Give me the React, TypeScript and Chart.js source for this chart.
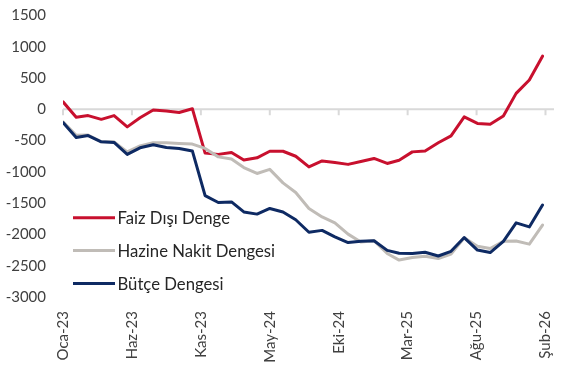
import React, { useEffect, useRef } from "react";
import { Chart, registerables } from "chart.js";

Chart.register(...registerables);

// Monthly observations (first day of each month)
const MONTHS: string[] = [
  "2023-01", "2023-02", "2023-03", "2023-04", "2023-05", "2023-06",
  "2023-07", "2023-08", "2023-09", "2023-10", "2023-11", "2023-12",
  "2024-01", "2024-02", "2024-03", "2024-04", "2024-05", "2024-06",
  "2024-07", "2024-08", "2024-09", "2024-10", "2024-11", "2024-12",
  "2025-01", "2025-02", "2025-03", "2025-04", "2025-05", "2025-06",
  "2025-07", "2025-08", "2025-09", "2025-10", "2025-11", "2025-12",
  "2026-01", "2026-02",
];

const FAIZ_DISI_DENGE: number[] = [
  120, -125, -100, -160, -100, -280, -135, -10, -25, -50, 10,
  -700, -720, -690, -810, -775, -670, -670, -750, -920, -825,
  -850, -880, -835, -785, -865, -815, -680, -665, -535, -425,
  -120, -225, -240, -105, 255, 470, 850,
];

const HAZINE_NAKIT_DENGESI: number[] = [
  -200, -415, -410, -520, -520, -680, -585, -535, -535, -545, -555,
  -625, -760, -795, -930, -1025, -960, -1175, -1330, -1585, -1720,
  -1815, -1995, -2120, -2100, -2305, -2410, -2370, -2350, -2385, -2315,
  -2055, -2190, -2225, -2110, -2105, -2155, -1850,
];

const BUTCE_DENGESI: number[] = [
  -210, -450, -420, -520, -530, -720, -615, -565, -610, -625, -665,
  -1380, -1490, -1480, -1640, -1675, -1585, -1640, -1765, -1965, -1935,
  -2040, -2130, -2110, -2100, -2255, -2300, -2305, -2285, -2345, -2270,
  -2050, -2250, -2290, -2110, -1815, -1880, -1530,
];

const SERIES_LABELS: string[] = ["Faiz Dışı Denge", "Hazine Nakit Dengesi", "Bütçe Dengesi"];
const SERIES_COLORS: string[] = ["#C8102E", "#C0BCB7", "#0E2A63"];

// Date-axis tick labels (one every 162 days from 1 Jan 2023)
const TICK_LABELS: string[] = ["Oca-23", "Haz-23", "Kas-23", "May-24", "Eki-24", "Mar-25", "Ağu-25", "Şub-26"];
const TICK_STEP_DAYS = 162;
const AXIS_START = "2023-01-01";
const AXIS_END = "2026-02-28";

const Y_MIN = -3000;
const Y_MAX = 1500;
const Y_STEP = 500;

const FONT = "Lato, 'Open Sans', sans-serif";

function daysFromStart(iso: string): number {
  const s = Date.parse(AXIS_START + "T00:00:00Z");
  const d = Date.parse(iso.length === 7 ? iso + "-01T00:00:00Z" : iso + "T00:00:00Z");
  return Math.round((d - s) / 86400000);
}

function toPoints(values: number[]) {
  return values.map((v, i) => ({ x: daysFromStart(MONTHS[i]), y: v }));
}

const zeroLinePlugin = {
  id: "zeroLine",
  beforeDatasetsDraw(chart: any) {
    const { ctx, chartArea, scales } = chart;
    const y0 = scales.y.getPixelForValue(0);
    ctx.save();
    ctx.strokeStyle = "#D9D9D9";
    ctx.lineWidth = 2;
    ctx.beginPath();
    ctx.moveTo(chartArea.left, y0);
    ctx.lineTo(chartArea.right, y0);
    for (const t of scales.x.ticks) {
      const x = scales.x.getPixelForValue(t.value);
      ctx.moveTo(x, y0);
      ctx.lineTo(x, y0 + 6);
    }
    ctx.stroke();
    ctx.restore();
  },
};

const legendPlugin = {
  id: "insideLegend",
  afterDraw(chart: any) {
    const { ctx } = chart;
    const rows = [217.7, 250.5, 283.5];
    ctx.save();
    chart.data.datasets.forEach((ds: any) => {
      const idx = SERIES_LABELS.indexOf(ds.label);
      const y = rows[idx];
      ctx.strokeStyle = ds.borderColor;
      ctx.lineWidth = 3;
      ctx.beginPath();
      ctx.moveTo(73, y);
      ctx.lineTo(115, y);
      ctx.stroke();
      ctx.fillStyle = "#262626";
      ctx.font = `16.7px ${FONT}`;
      ctx.textBaseline = "middle";
      ctx.textAlign = "left";
      ctx.fillText(ds.label, 117.5, y + 1);
    });
    ctx.restore();
  },
};

export default function App() {
  const ref = useRef<HTMLCanvasElement | null>(null);

  useEffect(() => {
    document.body.style.margin = "0";
    const canvas = ref.current;
    if (!canvas) return;
    const chart = new Chart(canvas, {
      type: "line",
      data: {
        datasets: [
          { label: SERIES_LABELS[0], data: toPoints(FAIZ_DISI_DENGE), borderColor: SERIES_COLORS[0], order: 3 },
          { label: SERIES_LABELS[1], data: toPoints(HAZINE_NAKIT_DENGESI), borderColor: SERIES_COLORS[1], order: 2 },
          { label: SERIES_LABELS[2], data: toPoints(BUTCE_DENGESI), borderColor: SERIES_COLORS[2], order: 1 },
        ].map((d) => ({
          ...d,
          borderWidth: 3,
          pointRadius: 0,
          tension: 0,
          fill: false,
          borderJoinStyle: "round" as const,
          borderCapStyle: "round" as const,
        })),
      },
      options: {
        animation: false,
        responsive: false,
        layout: { padding: { top: 15.5, right: 12, bottom: 0, left: 0 } },
        plugins: { legend: { display: false }, tooltip: { enabled: false } },
        scales: {
          x: {
            type: "linear",
            min: 0,
            max: daysFromStart(AXIS_END),
            grid: { display: false, drawTicks: false },
            border: { display: false },
            afterBuildTicks: (scale: any) => {
              scale.ticks = TICK_LABELS.map((_, i) => ({ value: i * TICK_STEP_DAYS }));
            },
            afterFit: (scale: any) => {
              scale.height = 72;
              scale.paddingLeft = 0;
              scale.paddingRight = 0;
            },
            ticks: {
              autoSkip: false,
              minRotation: 90,
              maxRotation: 90,
              padding: 14,
              color: "#404040",
              font: { family: FONT, size: 15 },
              callback: (_v: any, i: number) => TICK_LABELS[i],
            },
          },
          y: {
            min: Y_MIN,
            max: Y_MAX,
            grid: { display: false, drawTicks: false },
            border: { display: false },
            afterFit: (scale: any) => {
              scale.width = 63;
              scale.paddingTop = 0;
              scale.paddingBottom = 0;
            },
            ticks: {
              stepSize: Y_STEP,
              padding: 17,
              color: "#404040",
              font: { family: FONT, size: 15 },
              callback: (v: any) => String(v),
            },
          },
        },
      },
      plugins: [zeroLinePlugin, legendPlugin],
    });
    return () => chart.destroy();
  }, []);

  return (
    <div style={{ width: 566, height: 369 }}>
      <canvas ref={ref} width={566} height={369} />
    </div>
  );
}
